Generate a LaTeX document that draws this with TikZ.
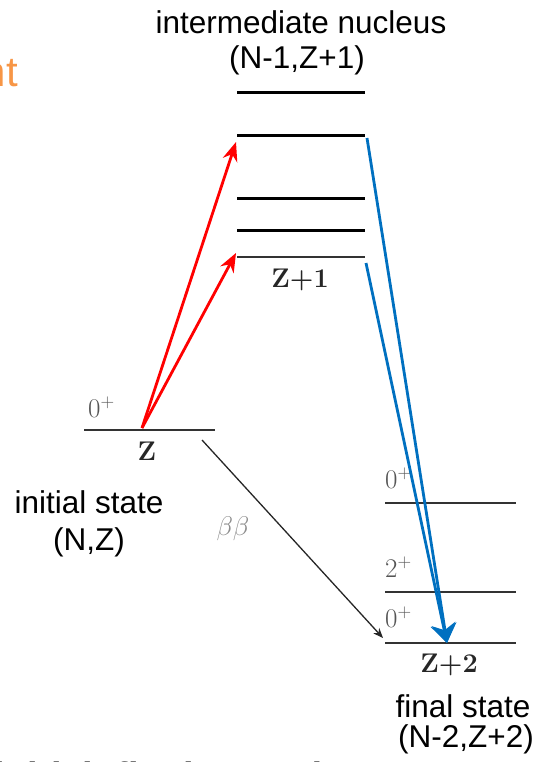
\documentclass[tikz,border=0pt]{standalone}
\usepackage{fix-cm}
\usepackage{fontspec}
\usepackage{amsmath}
\usepackage{xcolor}
\usetikzlibrary{arrows.meta,positioning}
\newfontfamily\slidefont{Liberation Sans}
\definecolor{excite}{HTML}{FF0000}
\definecolor{decay}{HTML}{0070C0}
\definecolor{heading}{HTML}{F79646}
\definecolor{lvl}{HTML}{333333}
\definecolor{spin}{HTML}{555555}
\definecolor{faint}{HTML}{8C8C8C}

\begin{document}
\begin{tikzpicture}[x=1pt,y=-1pt,
  slide/.style={font=\slidefont\fontsize{31.5}{36}\selectfont,inner sep=0pt,anchor=base},
  lab/.style={font=\fontsize{27}{30}\selectfont,inner sep=0pt,text=spin},
  zlab/.style={lab,text=black!85,anchor=base},
  thicklevel/.style={line width=3pt,draw=black},
  thinlevel/.style={line width=1.8pt,draw=lvl},
  toint/.style={line width=2.8pt,draw=excite,-{Stealth[length=19pt,width=15pt]}},
  tofin/.style={line width=2.8pt,draw=decay,-{Stealth[length=19pt,width=25pt]}},
  bbline/.style={line width=1.3pt,draw=black!85,-{Stealth[length=10pt,width=8pt]}}]
  \useasboundingbox (0,0) rectangle (539,762);

  % slide remnants
  \node[font=\slidefont\fontsize{42}{44}\selectfont,text=heading,inner sep=0pt,anchor=base east] (head) at (18,87) {nt};
  \node[font=\slidefont\bfseries\fontsize{38}{40}\selectfont,inner sep=0pt,anchor=base east] (note) at (327,789) {(initial+final states)};

  % intermediate nucleus
  \foreach \y/\n in {93/1,136/2,198/3,230/4}
    \draw[thicklevel] (237,\y) coordinate (lv\n w) -- (365,\y) coordinate (lv\n e);
  \draw[thinlevel] (237,257) coordinate (lv0w) -- (365,257) coordinate (lv0e);
  \node[zlab] (zB) at (300,287) {\textbf{Z+1}};
  \node[slide] (intname) at (301,34) {intermediate nucleus};
  \node[slide] (intza) at (297,69) {(N-1,Z+1)};

  % initial state
  \draw[thinlevel] (84,430) coordinate (iniw) -- (215,430) coordinate (inie);
  \node[lab,anchor=base west] (spinA) at (88,417) {$0^+$};
  \node[zlab] (zA) at (147,460) {\textbf{Z}};
  \node[slide] (ininame) at (89,513) {initial state};
  \node[slide] (iniza) at (89,550) {(N,Z)};

  % final state
  \foreach \y/\n in {503/a,592/b,643/c}
    \draw[thinlevel] (385,\y) coordinate (fin\n w) -- (516,\y) coordinate (fin\n e);
  \node[lab,anchor=base west] (spinB) at (385,488) {$0^+$};
  \node[lab,anchor=base west] (spinC) at (385,577) {$2^+$};
  \node[lab,anchor=base west] (spinD) at (385,627) {$0^+$};
  \node[zlab] (zC) at (449,672) {\textbf{Z+2}};
  \node[slide] (finname) at (463,717) {final state};
  \node[slide] (finza) at (466,747) {(N-2,Z+2)};

  % transitions
  \coordinate (src) at (142,428);
  \coordinate (hitA) at (236,142);
  \coordinate (hitB) at (236,253);
  \coordinate (outA) at (367,138);
  \coordinate (outB) at (366,263);
  \coordinate (gs) at (447,643);
  \coordinate (bbA) at (202,440);
  \coordinate (bbB) at (383,638);
  \draw[toint] (src) -- (hitA);
  \draw[toint] (src) -- (hitB);
  \draw[tofin] (outA) -- (gs);
  \draw[tofin] (outB) -- (gs);
  \draw[bbline] (bbA) -- (bbB);
  \node[lab,text=faint] (bbl) at (233,529) {$\beta\beta$};
\end{tikzpicture}
\end{document}
